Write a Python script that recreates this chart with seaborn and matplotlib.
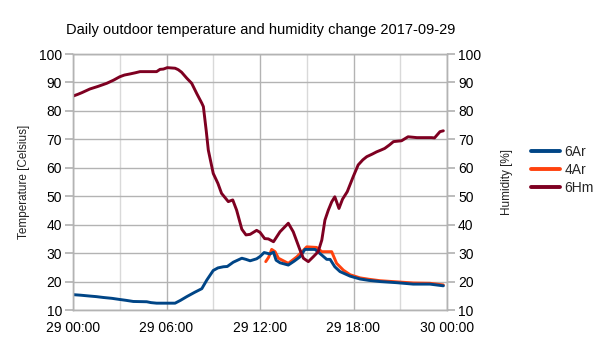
import matplotlib
matplotlib.use("Agg")
import matplotlib.pyplot as plt
import matplotlib.dates as mdates
from matplotlib.ticker import MultipleLocator
from matplotlib.lines import Line2D
import seaborn as sns
import pandas as pd

DAY = "2017-09-29"

hm_times = ["00:00", "00:18", "00:34", "01:05", "01:36", "02:10", "02:36", "03:00", "03:18", "03:40",
            "04:00", "04:18", "05:22", "05:35", "05:48", "06:03", "06:33", "06:45", "06:58", "07:18",
            "07:37", "07:57", "08:16", "08:22", "08:33", "08:41", "09:00", "09:18", "09:32", "09:58",
            "10:15", "10:30", "10:50", "11:06", "11:22", "11:47", "12:00", "12:18", "12:32", "12:52",
            "13:17", "13:49", "14:08", "14:34", "14:47", "15:06", "15:25", "15:44", "15:58", "16:10",
            "16:23", "16:36", "16:48", "17:04", "17:18", "17:36", "17:59", "18:18", "18:36", "18:51",
            "19:12", "19:29", "19:45", "20:00", "20:18", "20:34", "21:05", "21:30", "22:04", "23:00",
            "23:12", "23:33", "23:46"]
hm_values = [85.2, 85.8, 86.4, 87.7, 88.6, 89.7, 90.8, 92.0, 92.6, 93.0,
             93.4, 93.8, 93.8, 94.6, 94.7, 95.2, 95.0, 94.5, 93.6, 91.5,
             89.7, 86.0, 82.7, 81.5, 73.0, 66.2, 58.0, 54.5, 51.0, 48.1,
             48.7, 45.1, 38.4, 36.4, 36.6, 38.0, 37.3, 35.1, 35.0, 34.0,
             37.5, 40.5, 37.5, 31.1, 28.2, 27.0, 28.7, 30.5, 34.6, 41.6,
             45.1, 48.0, 49.8, 45.7, 49.0, 51.6, 56.9, 61.0, 62.8, 63.9,
             64.8, 65.6, 66.2, 66.8, 68.0, 69.2, 69.5, 70.9, 70.6, 70.6,
             70.5, 72.7, 73.0]

ar6_times = ["00:00", "00:30", "01:05", "01:30", "01:57", "02:30", "03:00", "03:24", "03:52", "04:18",
             "04:44", "05:00", "05:22", "06:00", "06:33", "06:54", "07:18", "07:48", "08:16", "08:35",
             "09:00", "09:18", "09:39", "09:54", "10:17", "10:50", "11:06", "11:22", "11:47", "12:00",
             "12:16", "12:38", "12:52", "13:02", "13:17", "13:49", "14:12", "14:34", "14:53", "15:32",
             "15:58", "16:17", "16:30", "16:48", "17:08", "17:47", "18:25", "19:00", "19:42", "20:47",
             "21:50", "22:54", "23:46"]
ar6_values = [15.4, 15.2, 14.9, 14.7, 14.4, 14.1, 13.7, 13.4, 13.0, 12.95,
              12.9, 12.6, 12.4, 12.4, 12.4, 13.4, 14.7, 16.2, 17.5, 20.5,
              23.9, 24.8, 25.2, 25.3, 26.8, 28.2, 27.8, 27.3, 28.0, 28.8,
              30.2, 29.7, 30.3, 27.5, 26.6, 25.8, 27.2, 28.7, 31.3, 31.3,
              29.3, 27.8, 27.8, 25.2, 23.5, 21.9, 20.9, 20.4, 20.0, 19.6,
              19.1, 19.1, 18.5]

ar4_times = ["12:22", "12:33", "12:45", "12:58", "13:11", "13:49", "14:22", "15:00", "15:38", "15:58",
             "16:36", "16:55", "17:21", "17:47", "18:25", "19:00", "19:42", "20:47", "21:50", "22:54",
             "23:46"]
ar4_values = [27.0, 28.5, 31.3, 30.5, 28.2, 26.4, 28.7, 32.2, 32.0, 30.5,
              30.5, 26.4, 24.0, 22.4, 21.3, 20.8, 20.3, 19.9, 19.5, 19.4,
              18.8]

series_names = ["6Ar", "4Ar", "6Hm"]
colors = {"6Ar": "#004586", "4Ar": "#ff420e", "6Hm": "#7e0021"}
x_tick_labels = ["29 00:00", "29 06:00", "29 12:00", "29 18:00", "30 00:00"]


def frame(times, values):
    return pd.DataFrame({"time": pd.to_datetime([f"{DAY} {t}" for t in times]),
                         "value": values})


df6 = frame(ar6_times, ar6_values)
df4 = frame(ar4_times, ar4_values)
dfh = frame(hm_times, hm_values)

sns.set_theme(style="white")
plt.rcParams["font.family"] = ["Liberation Sans", "DejaVu Sans"]

fig = plt.figure(figsize=(6.05, 3.4), dpi=100)
ax = fig.add_axes([73 / 605, 1 - 310 / 340, (447 - 73) / 605, (310 - 54) / 340])
ax2 = ax.twinx()

lw = 2.1
sns.lineplot(data=df4, x="time", y="value", ax=ax, color=colors["4Ar"], linewidth=lw)
sns.lineplot(data=df6, x="time", y="value", ax=ax, color=colors["6Ar"], linewidth=lw)
sns.lineplot(data=dfh, x="time", y="value", ax=ax2, color=colors["6Hm"], linewidth=lw)

start = pd.Timestamp(f"{DAY} 00:00")
end = pd.Timestamp("2017-09-30 00:00")
ax.set_xlim(start, end)
for a in (ax, ax2):
    a.set_ylim(10, 100)
    a.yaxis.set_major_locator(MultipleLocator(10))

grid_c = "#b3b3b3"
ax.set_xticks(pd.date_range(start, end, freq="6h"))
ax.set_xticklabels(x_tick_labels)
ax.xaxis.set_minor_locator(mdates.HourLocator(byhour=[3, 9, 15, 21]))

ax.grid(True, which="major", axis="both", color=grid_c, linewidth=1.0)
ax.xaxis.grid(True, which="minor", color="#d9d9d9", linewidth=1.0)
ax.set_axisbelow(True)
ax2.grid(False)

for a in (ax, ax2):
    for s in a.spines.values():
        s.set_color(grid_c)
        s.set_linewidth(1.0)

ax.tick_params(axis="x", which="major", length=6, color=grid_c, labelsize=10, pad=2, labelcolor="black")
ax.tick_params(axis="x", which="minor", length=0)
ax.tick_params(axis="y", length=6, color=grid_c, labelsize=10, pad=2, labelcolor="black", left=True)
ax2.tick_params(axis="y", length=6, color=grid_c, labelsize=10, pad=2, labelcolor="black", right=True)

ax.set_xlabel("")
ax.set_ylabel("Temperature [Celsius]", fontsize=8.5, color="#222222", labelpad=6)
ax2.set_ylabel("Humidity [%]", fontsize=8.5, color="#222222", labelpad=14)

fig.suptitle("Daily outdoor temperature and humidity change 2017-09-29", x=0.431, y=0.933,
             fontsize=10.5, color="black")

handles = [Line2D([0], [0], color=colors[n], linewidth=2.8) for n in series_names]
fig.legend(handles, series_names, loc="upper left", bbox_to_anchor=(531 / 605, 1 - 145 / 340),
           frameon=False, fontsize=10, handlelength=2.1, handletextpad=0.3, labelspacing=0.3,
           borderaxespad=0, borderpad=0)

fig.savefig("out.png", dpi=100)
